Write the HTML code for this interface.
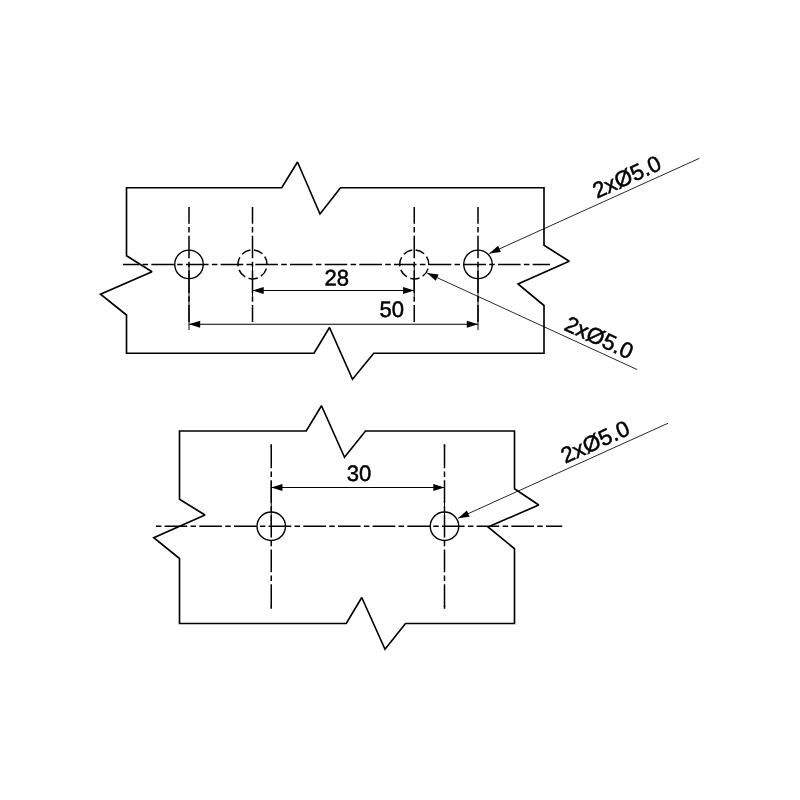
<!DOCTYPE html>
<html><head><meta charset="utf-8"><title>Hole pattern drawing</title>
<style>
html,body{margin:0;padding:0;background:#fff;}
body{width:800px;height:800px;overflow:hidden;}
svg{display:block;will-change:transform;}
svg text{font-family:"Liberation Sans",sans-serif;font-size:22.4px;fill:#000;stroke:#000;stroke-width:0.5px;stroke-linejoin:round;}
</style></head>
<body>
<svg width="800" height="800" viewBox="0 0 800 800" fill="none" stroke="#000" stroke-linecap="butt">
<rect x="0" y="0" width="800" height="800" fill="#fff" stroke="none"/>
<polygon points="126.5,187.75 281.75,187.75 297.5,162 320,214 340.5,187.75 544,187.75 544,245.25 569.25,261.25 518,284 544,305.5 544,353.25 373.75,353.25 352.5,379.25 329.5,327.5 314,353.25 126.5,353.25 126.5,315 100.5,294.25 152,271.75 126.5,255.75" stroke-width="1.65" stroke-linejoin="miter" stroke-miterlimit="2"/>
<line x1="123" y1="264.4" x2="550" y2="264.4" stroke-width="1.5" stroke-dasharray="22.6 3.3 5.5 3.27" stroke-dashoffset="6.36"/>
<line x1="189.0" y1="207" x2="189.0" y2="322" stroke-width="1.5" stroke-dasharray="22.6 3.3 5.5 3.27" stroke-dashoffset="5.92"/>
<line x1="252.5" y1="207" x2="252.5" y2="322" stroke-width="1.5" stroke-dasharray="22.6 3.3 5.5 3.27" stroke-dashoffset="5.92"/>
<line x1="414.25" y1="207" x2="414.25" y2="322" stroke-width="1.5" stroke-dasharray="22.6 3.3 5.5 3.27" stroke-dashoffset="5.92"/>
<line x1="478.0" y1="207" x2="478.0" y2="322" stroke-width="1.5" stroke-dasharray="22.6 3.3 5.5 3.27" stroke-dashoffset="5.92"/>
<circle cx="189.0" cy="264.4" r="14.25" stroke-width="1.4"/>
<circle cx="478.0" cy="264.4" r="14.25" stroke-width="1.4"/>
<circle cx="252.5" cy="264.4" r="14.5" stroke-width="1.5" stroke-dasharray="9.36 3.655" stroke-dashoffset="8.7"/>
<circle cx="414.25" cy="264.4" r="14.5" stroke-width="1.5" stroke-dasharray="9.36 3.655" stroke-dashoffset="8.7"/>
<line x1="252.5" y1="264.4" x2="252.5" y2="296" stroke-width="1.0"/>
<line x1="414.25" y1="264.4" x2="414.25" y2="296" stroke-width="1.0"/>
<line x1="189.0" y1="264.4" x2="189.0" y2="330" stroke-width="1.0"/>
<line x1="478.0" y1="264.4" x2="478.0" y2="330" stroke-width="1.0"/>
<line x1="252.5" y1="290.5" x2="414.25" y2="290.5" stroke-width="1.0"/>
<polygon points="252.50,290.50 263.70,293.90 263.70,287.10" fill="#000" stroke="none"/>
<polygon points="414.25,290.50 403.05,287.10 403.05,293.90" fill="#000" stroke="none"/>
<text transform="translate(336.8,285.6) rotate(0.05) scale(0.985,1)" text-anchor="middle">28</text>
<line x1="189.0" y1="324.25" x2="478.0" y2="324.25" stroke-width="1.0"/>
<polygon points="189.00,324.25 200.20,327.65 200.20,320.85" fill="#000" stroke="none"/>
<polygon points="478.00,324.25 466.80,320.85 466.80,327.65" fill="#000" stroke="none"/>
<text transform="translate(391.8,316.9) rotate(0.05) scale(0.985,1)" text-anchor="middle">50</text>
<line x1="489.25" y1="253.5" x2="699.5" y2="158.25" stroke-width="0.85"/><polygon points="489.25,253.50 500.85,251.98 498.05,245.78" fill="#000" stroke="none"/>
<text transform="translate(596.9,198.8) rotate(-24.37) scale(1.005,1)" text-anchor="start">2xØ5.0</text>
<line x1="427" y1="273" x2="637" y2="369.5" stroke-width="0.85"/><polygon points="427.00,273.00 435.76,280.77 438.60,274.59" fill="#000" stroke="none"/>
<text transform="translate(563,329.4) rotate(24.68) scale(1.005,1)" text-anchor="start">2xØ5.0</text>
<polygon points="179.5,431 306.25,431 321.5,405.75 344.5,457.25 365.5,431 514.5,431 514.5,488.75 538.75,505 488,527 514.5,548.75 514.5,623.5 405.5,623.5 385,649.25 361.75,597.5 346.25,623.5 179.5,623.5 179.5,558.5 153.75,537.75 205,515 179.5,499.25" stroke-width="1.65" stroke-linejoin="miter" stroke-miterlimit="2"/>
<line x1="155.5" y1="526.25" x2="562.3" y2="526.25" stroke-width="1.5" stroke-dasharray="22.6 3.3 5.5 3.27" stroke-dashoffset="25.53"/>
<line x1="271.25" y1="444.5" x2="271.25" y2="608.5" stroke-width="1.5" stroke-dasharray="22.6 3.3 5.5 3.27" stroke-dashoffset="33.56"/>
<line x1="271.25" y1="444.2" x2="271.25" y2="447" stroke-width="1.5"/>
<line x1="271.25" y1="605.5" x2="271.25" y2="608.8" stroke-width="1.5"/>
<circle cx="271.25" cy="526.25" r="14.25" stroke-width="1.4"/>
<line x1="271.25" y1="482" x2="271.25" y2="526.25" stroke-width="1.0"/>
<line x1="444.5" y1="444.5" x2="444.5" y2="608.5" stroke-width="1.5" stroke-dasharray="22.6 3.3 5.5 3.27" stroke-dashoffset="33.56"/>
<line x1="444.5" y1="444.2" x2="444.5" y2="447" stroke-width="1.5"/>
<line x1="444.5" y1="605.5" x2="444.5" y2="608.8" stroke-width="1.5"/>
<circle cx="444.5" cy="526.25" r="14.25" stroke-width="1.4"/>
<line x1="444.5" y1="482" x2="444.5" y2="526.25" stroke-width="1.0"/>
<line x1="271.25" y1="487.5" x2="444.5" y2="487.5" stroke-width="1.0"/>
<polygon points="271.25,487.50 282.45,490.90 282.45,484.10" fill="#000" stroke="none"/>
<polygon points="444.50,487.50 433.30,484.10 433.30,490.90" fill="#000" stroke="none"/>
<text transform="translate(359.0,481.0) rotate(0.05) scale(0.985,1)" text-anchor="middle">30</text>
<line x1="458" y1="518.25" x2="668" y2="423.25" stroke-width="0.85"/><polygon points="458.00,518.25 469.61,516.73 466.80,510.54" fill="#000" stroke="none"/>
<text transform="translate(565.2,463.8) rotate(-24.34) scale(1.005,1)" text-anchor="start">2xØ5.0</text>
</svg>
</body></html>
